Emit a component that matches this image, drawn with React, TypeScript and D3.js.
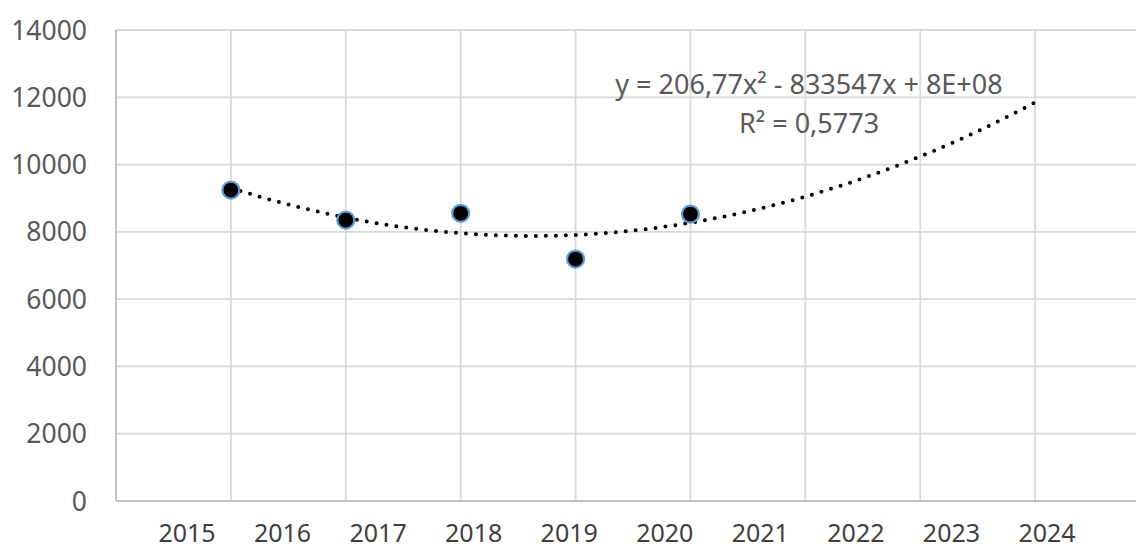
import React, { useEffect, useRef } from 'react';
import * as d3 from 'd3';

// observed values (scatter points)
const years = [2013, 2014, 2015, 2016, 2017];
const values = [9243, 8351, 8551, 7192, 8530];

// axis setup
const xDomain = [2012, 2021];
const yTicks = [0, 2000, 4000, 6000, 8000, 10000, 12000, 14000];
const xLabels = ['2015', '2016', '2017', '2018', '2019', '2020', '2021', '2022', '2023', '2024'];
const forecastPeriods = 3;

const equationLines = ['y = 206,77x² - 833547x + 8E+08', 'R² = 0,5773'];

// least squares quadratic fit, done on centred x
function fitQuadratic(xs: number[], ys: number[]) {
  const mx = d3.mean(xs) as number;
  const u = xs.map((x) => x - mx);
  const n = xs.length;
  const s = (k: number) => d3.sum(u, (v) => Math.pow(v, k));
  const t = (k: number) => d3.sum(u, (v, i) => Math.pow(v, k) * ys[i]);
  // solve 3x3 normal equations
  const A = [
    [n, s(1), s(2)],
    [s(1), s(2), s(3)],
    [s(2), s(3), s(4)],
  ];
  const b = [t(0), t(1), t(2)];
  for (let i = 0; i < 3; i++) {
    for (let j = i + 1; j < 3; j++) {
      const f = A[j][i] / A[i][i];
      for (let k = i; k < 3; k++) A[j][k] -= f * A[i][k];
      b[j] -= f * b[i];
    }
  }
  const c = [0, 0, 0];
  for (let i = 2; i >= 0; i--) {
    let acc = b[i];
    for (let k = i + 1; k < 3; k++) acc -= A[i][k] * c[k];
    c[i] = acc / A[i][i];
  }
  return (x: number) => c[0] + c[1] * (x - mx) + c[2] * (x - mx) * (x - mx);
}

const App = () => {
  const ref = useRef<SVGSVGElement>(null);

  useEffect(() => {
    const svg = d3.select(ref.current);
    svg.selectAll('*').remove();

    const width = 1136;
    const height = 550;
    const left = 116;
    const top = 30;
    const bottom = 501;
    const right = 1150;
    const font = "'Noto Sans', 'Open Sans', sans-serif";

    const x = d3.scaleLinear().domain(xDomain).range([left, right]);
    const y = d3.scaleLinear().domain([0, 14000]).range([bottom, top]);

    // gridlines
    svg
      .append('g')
      .selectAll('line')
      .data(yTicks.slice(1))
      .enter()
      .append('line')
      .attr('x1', left)
      .attr('x2', width)
      .attr('y1', (d) => y(d))
      .attr('y2', (d) => y(d))
      .style('stroke', '#d9d9d9')
      .style('stroke-width', 1.8);

    svg
      .append('g')
      .selectAll('line')
      .data(d3.range(xDomain[0] + 1, xDomain[1] + 1))
      .enter()
      .append('line')
      .attr('x1', (d) => x(d))
      .attr('x2', (d) => x(d))
      .attr('y1', top)
      .attr('y2', bottom)
      .style('stroke', '#d9d9d9')
      .style('stroke-width', 1.8);

    // axis lines
    svg
      .append('line')
      .attr('x1', left)
      .attr('x2', left)
      .attr('y1', top)
      .attr('y2', bottom)
      .style('stroke', '#c4c4c4')
      .style('stroke-width', 2);
    svg
      .append('line')
      .attr('x1', left)
      .attr('x2', width)
      .attr('y1', bottom)
      .attr('y2', bottom)
      .style('stroke', '#bfbfbf')
      .style('stroke-width', 2);

    // y tick labels
    svg
      .append('g')
      .selectAll('text')
      .data(yTicks)
      .enter()
      .append('text')
      .attr('x', 87)
      .attr('y', (d) => y(d))
      .attr('dy', '0.36em')
      .style('text-anchor', 'end')
      .style('font-family', font)
      .style('font-size', '26.5px')
      .style('fill', '#595959')
      .text((d) => String(d));

    // x labels (category axis)
    const xl = d3.scalePoint().domain(xLabels).range([187, 1047]);
    svg
      .append('g')
      .selectAll('text')
      .data(xLabels)
      .enter()
      .append('text')
      .attr('x', (d) => xl(d) as number)
      .attr('y', 542)
      .style('text-anchor', 'middle')
      .style('font-family', font)
      .style('font-size', '25px')
      .style('fill', '#404040')
      .text((d) => d);

    // trendline
    const f = fitQuadratic(years, values);
    const x0 = years[0];
    const x1 = years[years.length - 1] + forecastPeriods;
    const trend = d3.range(0, 201).map((i) => x0 + ((x1 - x0) * i) / 200);
    const line = d3
      .line<number>()
      .x((d) => x(d))
      .y((d) => y(f(d)))
      .curve(d3.curveLinear);
    svg
      .append('path')
      .attr('d', line(trend))
      .style('fill', 'none')
      .style('stroke', '#000')
      .style('stroke-width', 4)
      .style('stroke-linecap', 'round')
      .style('stroke-dasharray', '0 10');

    // points
    svg
      .append('g')
      .selectAll('circle')
      .data(years)
      .enter()
      .append('circle')
      .attr('cx', (d) => x(d))
      .attr('cy', (d, i) => y(values[i]))
      .attr('r', 8.5)
      .style('fill', '#000')
      .style('stroke', '#5b9bd5')
      .style('stroke-width', 2.2);

    // equation label
    svg
      .append('g')
      .selectAll('text')
      .data(equationLines)
      .enter()
      .append('text')
      .attr('x', 809)
      .attr('y', (d, i) => 94 + i * 39)
      .style('text-anchor', 'middle')
      .style('font-family', font)
      .style('font-size', '27px')
      .style('fill', '#595959')
      .text((d) => d);

    svg.attr('width', width).attr('height', height);
  }, []);

  return (
    <svg
      ref={ref}
      width={1136}
      height={550}
      style={{ position: 'absolute', left: 0, top: 0, background: '#fff' }}
    ></svg>
  );
};

export default App;
